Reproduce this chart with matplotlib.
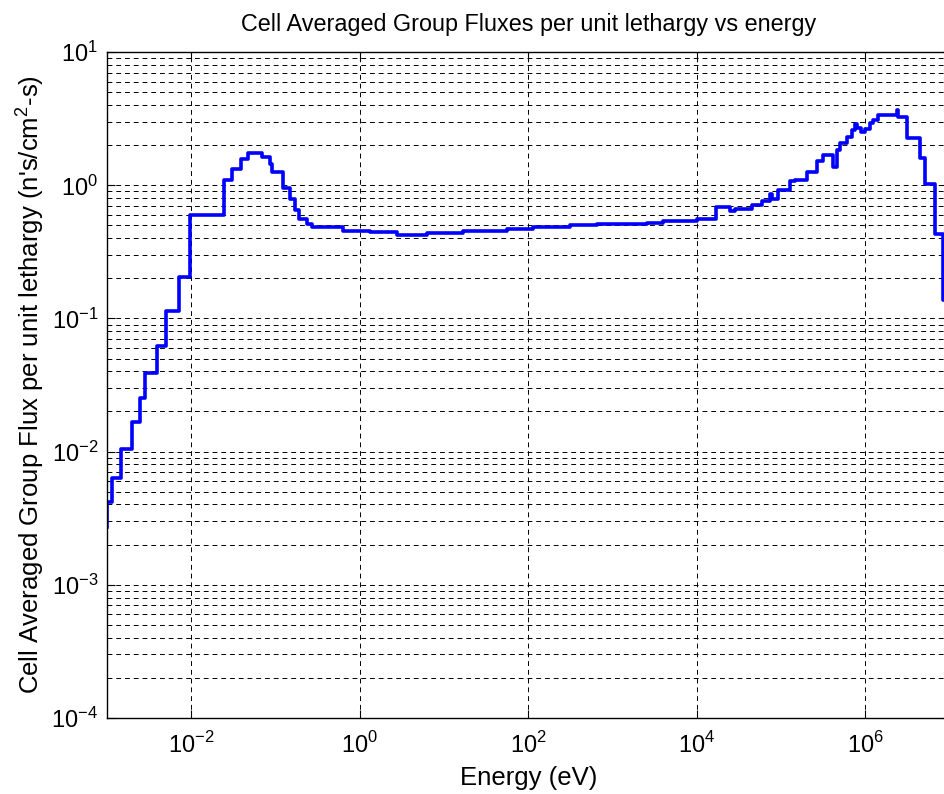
import numpy as np
import matplotlib
matplotlib.use("Agg")
import matplotlib.pyplot as plt
from matplotlib.ticker import LogLocator, NullLocator, NullFormatter, FixedLocator

plt.rcParams['font.family'] = ['Liberation Sans', 'DejaVu Sans']
plt.rcParams['mathtext.fontset'] = 'custom'
plt.rcParams['mathtext.rm'] = 'Liberation Sans'

# group upper energy bounds (eV) and flux per unit lethargy in that group
energy = [1.02e-3, 1.16e-3, 1.47e-3, 1.98e-3, 2.49e-3, 2.85e-3, 3.98e-3, 5.01e-3,
          7.2e-3, 9.7e-3, 0.0246, 0.0304, 0.0389, 0.0479, 0.069, 0.0865, 0.0906,
          0.122, 0.149, 0.171, 0.193, 0.236, 0.270, 0.635, 1.33, 2.78, 6.3, 16.9,
          56.0, 114.0, 313.0, 655.0, 2565.0, 3970.0, 1.0e4, 1.69e4, 2.48e4, 2.84e4,
          4.48e4, 5.89e4, 7.4e4, 7.73e4, 9.27e4, 1.27e5, 1.46e5, 2.01e5, 2.64e5,
          3.16e5, 4.16e5, 4.56e5, 5.0e5, 6.0e5, 6.88e5, 7.53e5, 7.89e5, 8.87e5,
          9.9e5, 1.14e6, 1.24e6, 1.42e6, 2.35e6, 2.45e6, 3.09e6, 4.45e6, 5.09e6,
          6.7e6, 8.4e6, 1.0e7]
flux = [2.73e-3, 4.2e-3, 6.3e-3, 0.0104, 0.0168, 0.0251, 0.0387, 0.0625,
        0.1145, 0.205, 0.598, 1.098, 1.33, 1.58, 1.76, 1.64, 1.45,
        1.27, 0.952, 0.787, 0.653, 0.556, 0.513, 0.49, 0.457, 0.449, 0.426, 0.441,
        0.457, 0.473, 0.49, 0.504, 0.51, 0.525, 0.54, 0.56, 0.685, 0.646,
        0.665, 0.713, 0.764, 0.861, 0.79, 0.923, 1.07, 1.10, 1.27,
        1.53, 1.69, 1.38, 1.85, 2.07, 2.32, 2.61, 2.88, 2.70,
        2.53, 2.64, 2.93, 3.10, 3.38, 3.69, 3.28, 2.28, 1.60,
        1.02, 0.429, 0.138]

xticks = [1e-2, 1e0, 1e2, 1e4, 1e6]
xticklabels = [r'$10^{-2}$', r'$10^{0}$', r'$10^{2}$', r'$10^{4}$', r'$10^{6}$']

fig = plt.figure(figsize=(9.45, 7.94), dpi=100)
ax = fig.add_axes([106.7 / 945, 76.3 / 794, (949.8 - 106.7) / 945, 665.4 / 794])

ax.step(energy, flux, where='pre', color='#0000ff', lw=2.6)

ax.set_xscale('log')
ax.set_yscale('log')
ax.set_xlim(1e-3, 1e7)
ax.set_ylim(1e-4, 1e1)

ax.xaxis.set_major_locator(FixedLocator(xticks))
ax.set_xticklabels(xticklabels)
ax.xaxis.set_minor_locator(NullLocator())
ax.yaxis.set_major_locator(LogLocator(base=10))
ax.yaxis.set_minor_locator(LogLocator(base=10, subs=np.arange(2, 10)))
ax.yaxis.set_minor_formatter(NullFormatter())

dash = (0, (5, 4))
ax.grid(True, which='major', axis='both', color='black', ls=dash, lw=0.7)
ax.grid(True, which='minor', axis='y', color='black', ls=dash, lw=0.7)

ax.tick_params(which='both', direction='in', top=True, right=True, labelsize=17)
ax.tick_params(which='major', length=6)
ax.tick_params(which='minor', length=3)
ax.tick_params(axis='x', pad=10)
ax.tick_params(axis='y', pad=6)
for s in ax.spines.values():
    s.set_linewidth(1.0)

ax.set_title('Cell Averaged Group Fluxes per unit lethargy vs energy', fontsize=16.8, pad=15)
ax.set_xlabel('Energy (eV)', fontsize=18.5, labelpad=6)
ax.set_ylabel("Cell Averaged Group Flux per unit lethargy (n's/cm$^2$-s)", fontsize=18.5, labelpad=4)

fig.savefig('out.png', dpi=100)
